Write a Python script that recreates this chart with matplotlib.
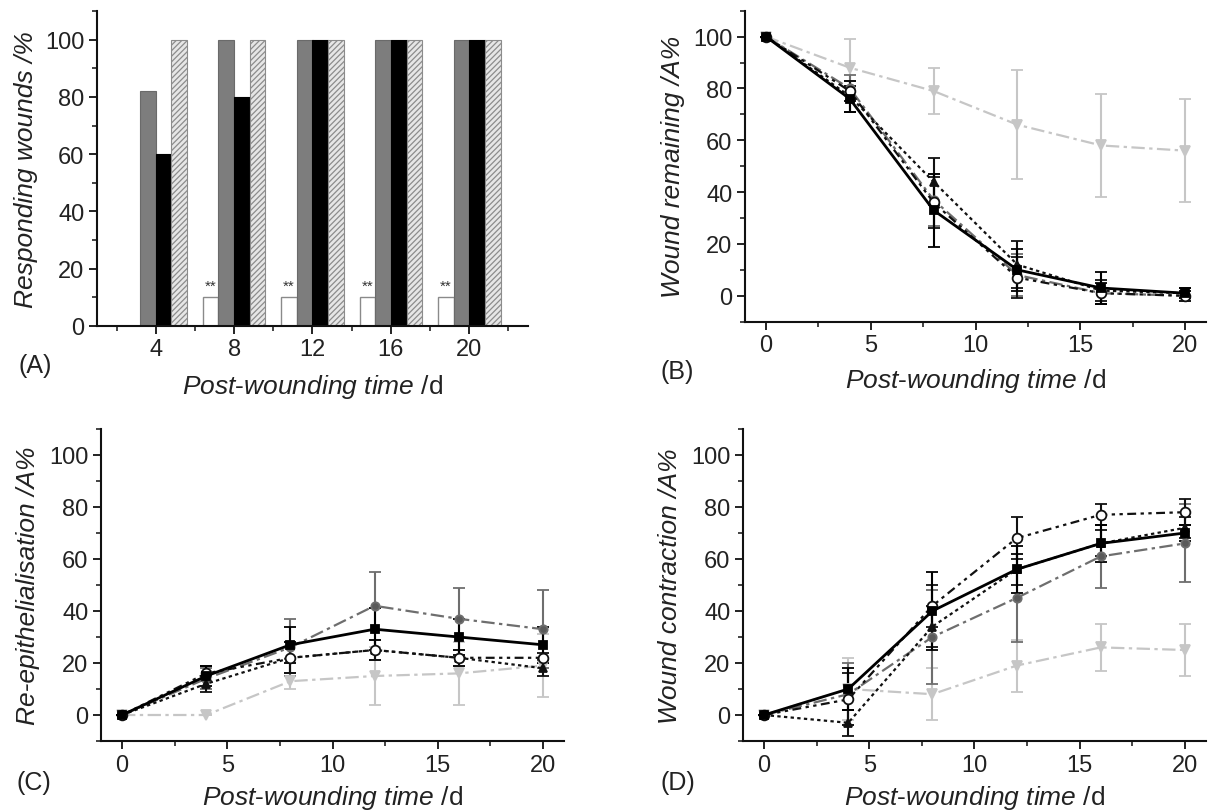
import matplotlib
matplotlib.use("Agg")
import matplotlib.pyplot as plt
from matplotlib.ticker import MultipleLocator
import numpy as np

plt.rcParams['font.family'] = ['Liberation Sans', 'DejaVu Sans']
plt.rcParams['mathtext.fontset'] = 'custom'
plt.rcParams['mathtext.rm'] = 'Liberation Sans'
plt.rcParams['mathtext.it'] = 'Liberation Sans:italic'
plt.rcParams['hatch.linewidth'] = 0.9

# ---------------- data ----------------
# Panel A: responding wounds (%)
bar_days = [4, 8, 12, 16, 20]
bar_white = [0, 10, 10, 10, 10]
bar_gray = [82, 100, 100, 100, 100]
bar_black = [60, 80, 100, 100, 100]
bar_hatched = [100, 100, 100, 100, 100]
star_days = [8, 12, 16, 20]

days = [0, 4, 8, 12, 16, 20]

# Panel B: wound remaining /A%
B_s1 = [100, 76, 33, 10, 3, 1]
B_s1_err = [0, 5, 14, 8, 6, 2]
B_s2 = [100, 79, 36, 7, 1, 0]
B_s2_err = [0, 4, 10, 8, 4, 2]
B_s3 = [100, 77, 44, 12, 2, 1]
B_s3_err = [0, 6, 9, 9, 4, 2]
B_s4 = [100, 80, 37, 8, 1, 0]
B_s4_err = [0, 5, 10, 8, 4, 2]
B_s5 = [100, 88, 79, 66, 58, 56]
B_s5_err = [0, 11, 9, 21, 20, 20]

# Panel C: re-epithelialisation /A%
C_s1 = [0, 15, 27, 33, 30, 27]
C_s1_err = [0, 4, 7, 8, 7, 7]
C_s2 = [0, 16, 22, 25, 22, 22]
C_s2_err = [0, 3, 6, 4, 3, 2]
C_s3 = [0, 12, 22, 25, 22, 18]
C_s3_err = [0, 3, 6, 4, 3, 3]
C_s4 = [0, 14, 26, 42, 37, 33]
C_s4_err = [0, 4, 11, 13, 12, 15]
C_s5 = [0, 0, 13, 15, 16, 19]
C_s5_err = [0, 0, 3, 11, 12, 12]

# Panel D: wound contraction /A%
D_s1 = [0, 10, 40, 56, 66, 70]
D_s1_err = [0, 8, 15, 9, 7, 3]
D_s2 = [0, 6, 42, 68, 77, 78]
D_s2_err = [0, 10, 8, 8, 4, 5]
D_s3 = [0, -3, 34, 56, 66, 72]
D_s3_err = [0, 5, 8, 6, 5, 4]
D_s4 = [0, 8, 30, 45, 61, 66]
D_s4_err = [0, 12, 18, 17, 12, 15]
D_s5 = [0, 10, 8, 19, 26, 25]
D_s5_err = [0, 12, 10, 10, 9, 10]

# ---------------- styles ----------------
series_styles = [
    # s5 light gray (drawn first)
    dict(color='#c6c6c6', dashes=(6, 2, 1.5, 2), marker='v', mfc='#c6c6c6', lw=1.6, ms=7),
    # s4 mid gray
    dict(color='#6e6e6e', dashes=(6, 2, 1.5, 2), marker='o', mfc='#5a5a5a', lw=1.6, ms=6),
    # s3 black dotted
    dict(color='#111111', dashes=(1.5, 1.5), marker='^', mfc='#111111', lw=1.6, ms=6),
    # s2 black dash-dot-dot, open circles
    dict(color='#111111', dashes=(4, 2, 1.5, 2, 1.5, 2), marker='o', mfc='white', lw=1.6, ms=7),
    # s1 solid black squares
    dict(color='#000000', dashes=None, marker='s', mfc='#000000', lw=2.0, ms=6),
]

fig = plt.figure(figsize=(12.08, 8.12), dpi=100)

TICK_FS = 17
LABEL_FS = 19
TXT = '#222222'
xlabel_txt = r'$\mathit{Post}$-$\mathit{wounding\ time\ /}$d'


def style_axes(ax):
    for s in ['top', 'right']:
        ax.spines[s].set_visible(False)
    for s in ['left', 'bottom']:
        ax.spines[s].set_linewidth(1.5)
        ax.spines[s].set_color('#111111')
    ax.tick_params(which='major', direction='out', length=6, width=1.3,
                   labelsize=TICK_FS, colors='#111111', labelcolor=TXT, pad=3)
    ax.tick_params(which='minor', direction='out', length=3.5, width=1.1, colors='#111111')
    ax.set_facecolor('white')


# ---------------- Panel A ----------------
axA = fig.add_axes([97/1208, 1-327/812, (528-97)/1208, (327-12)/812])
w = 0.8
x = np.array(bar_days, dtype=float)
axA.bar(x - 1.2, bar_white, width=w, color='white', edgecolor='#8a8a8a', linewidth=1.0, zorder=2)
axA.bar(x - 0.4, bar_gray, width=w, color='#7d7d7d', edgecolor='#6a6a6a', linewidth=0.8, zorder=2)
axA.bar(x + 0.4, bar_black, width=w, color='#000000', edgecolor='#000000', linewidth=0.8, zorder=2)
axA.bar(x + 1.2, bar_hatched, width=w, color='#e6e6e6', edgecolor='#8c8c8c',
        hatch='//////', linewidth=0.8, zorder=2)
for d in star_days:
    axA.text(d - 1.2, 11.5, '**', ha='center', va='bottom', fontsize=11, color='#333333')
axA.set_xlim(1, 23)
axA.set_ylim(0, 110)
axA.set_xticks(bar_days)
axA.xaxis.set_minor_locator(MultipleLocator(2))
axA.set_yticks([0, 20, 40, 60, 80, 100])
axA.yaxis.set_minor_locator(MultipleLocator(10))
style_axes(axA)
axA.set_ylabel('Responding wounds /%', fontsize=LABEL_FS, style='italic', color=TXT, va='center')
axA.yaxis.set_label_coords(-0.165, 0.5)
axA.set_xlabel(xlabel_txt, fontsize=LABEL_FS, color=TXT, va='center')
axA.xaxis.set_label_coords(0.5, -0.19)


def line_panel(rect, ys, errs, ylabel, ylab_x, xlab_y):
    ax = fig.add_axes(rect)
    for st, y, e in zip(series_styles, ys, errs):
        kw = dict(color=st['color'], lw=st['lw'], marker=st['marker'], ms=st['ms'],
                  mfc=st['mfc'], mec=st['color'] if st['mfc'] != 'white' else '#111111',
                  mew=1.3, ecolor=st['color'], elinewidth=1.5, capsize=4, capthick=1.5,
                  zorder=3)
        eb = ax.errorbar(days, y, yerr=e, **kw)
        if st['dashes'] is not None:
            eb.lines[0].set_dashes(st['dashes'])
    ax.set_xlim(-1, 21)
    ax.set_ylim(-10, 110)
    ax.set_xticks([0, 5, 10, 15, 20])
    ax.xaxis.set_minor_locator(MultipleLocator(2.5))
    ax.set_yticks([0, 20, 40, 60, 80, 100])
    ax.yaxis.set_minor_locator(MultipleLocator(10))
    style_axes(ax)
    ax.set_ylabel(ylabel, fontsize=LABEL_FS, style='italic', color=TXT, va='center')
    ax.yaxis.set_label_coords(ylab_x, 0.5)
    ax.set_xlabel(xlabel_txt, fontsize=LABEL_FS, color=TXT, va='center')
    ax.xaxis.set_label_coords(0.5, xlab_y)
    return ax


axB = line_panel([745/1208, 1-322.7/812, (1206-745)/1208, (322.7-11.7)/812],
                 [B_s5, B_s4, B_s3, B_s2, B_s1],
                 [B_s5_err, B_s4_err, B_s3_err, B_s2_err, B_s1_err],
                 'Wound remaining /A%', -0.156, -0.187)
axC = line_panel([101/1208, 1-742/812, (564-101)/1208, (742-430)/812],
                 [C_s5, C_s4, C_s3, C_s2, C_s1],
                 [C_s5_err, C_s4_err, C_s3_err, C_s2_err, C_s1_err],
                 'Re-epithelialisation /A%', -0.158, -0.18)
axD = line_panel([743/1208, 1-742/812, (1206-743)/1208, (742-430)/812],
                 [D_s5, D_s4, D_s3, D_s2, D_s1],
                 [D_s5_err, D_s4_err, D_s3_err, D_s2_err, D_s1_err],
                 'Wound contraction /A%', -0.158, -0.18)

# panel letters
for lbl, px, py in [('(A)', 18, 366), ('(B)', 660, 372), ('(C)', 17, 783), ('(D)', 660, 783)]:
    fig.text(px/1208, 1-py/812, lbl, ha='left', va='center', fontsize=18, color=TXT)

fig.savefig('out.png', dpi=100, facecolor='white')
